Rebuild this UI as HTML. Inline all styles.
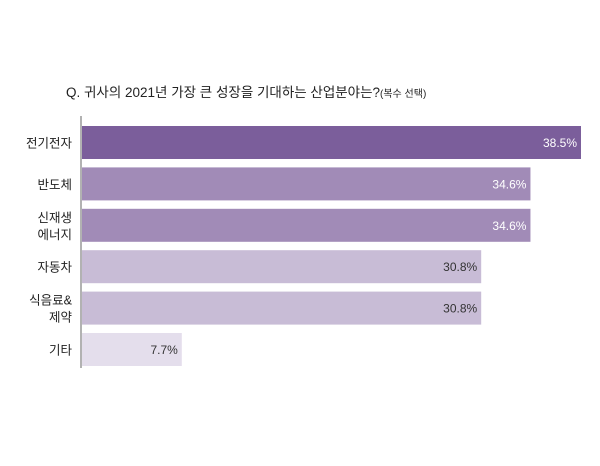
<!DOCTYPE html>
<html><head><meta charset="utf-8"><style>
body{margin:0;background:#fff;width:600px;height:461px;overflow:hidden;font-family:"Liberation Sans","Noto Sans CJK KR",sans-serif;}
</style></head><body>
<svg width="600" height="461">
<text x="66" y="97" font-size="13.5" fill="#222" font-family="Liberation Sans, Noto Sans CJK KR, sans-serif">Q. 귀사의 2021년 가장 큰 성장을 기대하는 산업분야는?<tspan font-size="10">(복수 선택)</tspan></text>
<line x1="81" y1="116" x2="81" y2="368" stroke="#666" stroke-width="1"/>
<g id="bars"></g>
</svg>
<script>
const categories=[["전기전자"],["반도체"],["신재생","에너지"],["자동차"],["식음료&","제약"],["기타"]];
const values=[38.5,34.6,34.6,30.8,30.8,7.7];
const labels=["38.5%","34.6%","34.6%","30.8%","30.8%","7.7%"];
const colors=["#7b5e9b","#a18bb7","#a18bb7","#c8bcd6","#c8bcd6","#e4deec"];
const ns="http://www.w3.org/2000/svg";
const g=document.getElementById('bars');
const x0=81,maxW=499,maxV=38.5;
function xs(v){return v/maxV*maxW;}
function yb(i){return 126+i*41.4;}
values.forEach((v,i)=>{
 const r=document.createElementNS(ns,'rect');
 r.setAttribute('x',x0+1);r.setAttribute('y',yb(i));r.setAttribute('width',xs(v));r.setAttribute('height',33);r.setAttribute('fill',colors[i]);
 
 
 g.appendChild(r);
 const t=document.createElementNS(ns,'text');
 t.setAttribute('x',x0+xs(v)-3);t.setAttribute('y',yb(i)+21);t.setAttribute('text-anchor','end');t.setAttribute('font-size','12');
 t.setAttribute('fill',i<3?'#fff':'#333');t.textContent=labels[i];
 
 
 g.appendChild(t);
 const c=categories[i];
 c.forEach((line,j)=>{
  const l=document.createElementNS(ns,'text');
  l.setAttribute('x',72);l.setAttribute('text-anchor','end');l.setAttribute('font-size','12.5');l.setAttribute('fill','#222');
  l.setAttribute('y',yb(i)+16.5+5+(j-(c.length-1)/2)*17);l.textContent=line;
  
  
  g.appendChild(l);
 });
});
</script>
</body></html>
